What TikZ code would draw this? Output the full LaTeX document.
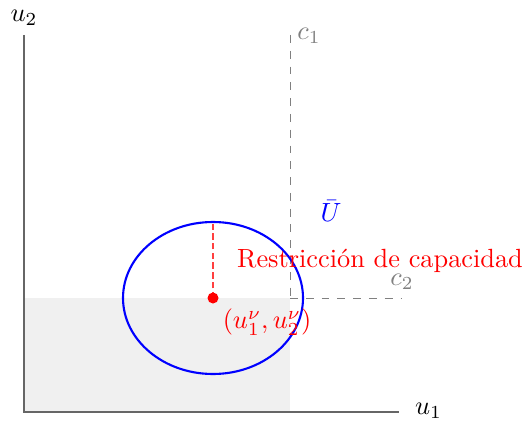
\documentclass[tikz,border=0pt]{standalone}
\usepackage{amsmath,amssymb}
\usepackage{tikz}
\usetikzlibrary{positioning,calc}
\tikzset{
	axis/.style={draw=black!60, line width=0.45pt},
	bound/.style={draw=gray, dashed, line width=0.35pt},
	glbl/.style={text=gray, inner sep=1pt},
	rlbl/.style={text=red, inner sep=1pt},
	region/.style={fill=gray!12, draw=none},
}

\begin{document}
\begin{tikzpicture}[x=0.38pt, y=-0.38pt]
				\useasboundingbox (0,0) rectangle (528,423);
				% axes
				\coordinate (o) at (24,412);
				\coordinate (xend) at (399,412);
				\coordinate (yend) at (24,35);
				\coordinate (cap) at (290,298);
				\coordinate (c1top) at (290,35);
				\coordinate (c2end) at (402,298);
				\coordinate (nu) at (213,298);
				\coordinate (nutop) at (213,222);
				\fill[region] (o) rectangle (cap);
				\draw[axis] (yend) -- (o) -- (xend);
				\node[anchor=west, inner sep=1pt] at (412,411) (u1) {$u_1$};
				\node[inner sep=1pt] at (24,18) (u2) {$u_2$};
				% capacity bounds
				\draw[bound] (c1top) -- (cap);
				\draw[bound] (cap) -- (c2end);
				\node[glbl] at (309,36) (c1) {$c_1$};
				\node[glbl] at (402,282) (c2) {$c_2$};
				% set and point
				\draw[blue, line width=0.8pt] (nu) ellipse [x radius=90, y radius=76];
				\draw[red!75, dash pattern=on 2.4pt off 1.3pt, line width=0.4pt] (nu) -- (nutop);
				\fill[red] (nu) circle (5.5);
				\node[text=blue, inner sep=1pt] at (331,211) (ubar) {$\bar{U}$};
				\node[rlbl] at (380,261) (restr) {Restricción de capacidad};
				\node[rlbl] at (267,322) (pt) {$(u_1^{\nu},u_2^{\nu})$};
			\end{tikzpicture}
\end{document}
